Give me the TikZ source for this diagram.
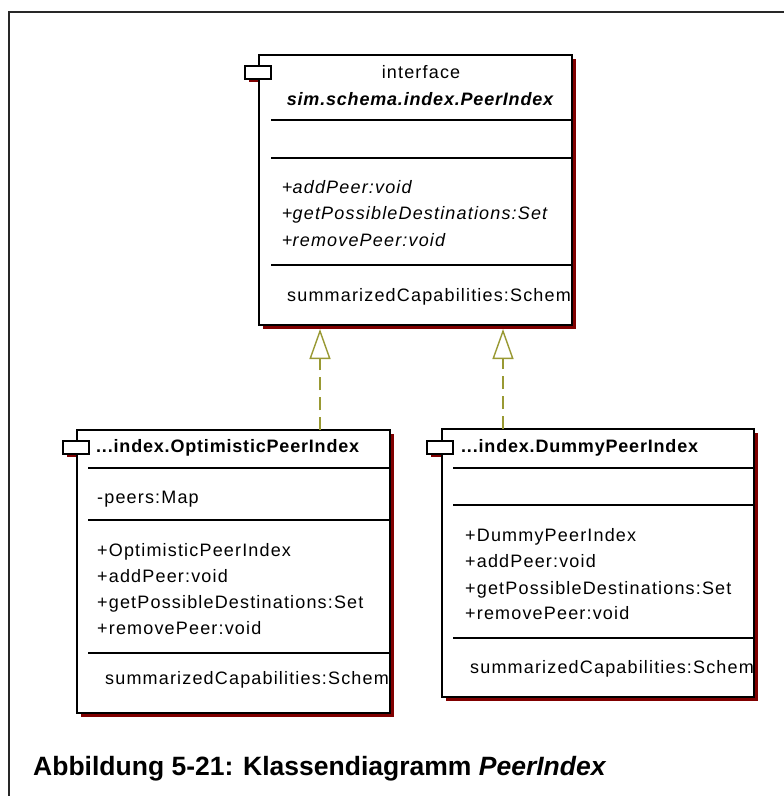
\documentclass[tikz,border=0pt]{standalone}
\usepackage{fontspec}
\setmainfont{Liberation Sans}
\newfontfamily\umlfont[LetterSpace=6.5]{Liberation Sans}
\newfontfamily\umlhead[LetterSpace=4.5]{Liberation Sans}
\usetikzlibrary{arrows.meta,shadows}
\definecolor{shadowred}{RGB}{128,0,0}
\definecolor{realizecol}{RGB}{153,153,51}
\definecolor{framegray}{RGB}{40,40,40}

\begin{document}
\begin{tikzpicture}[x=1pt,y=-1pt,
  classbox/.style={draw=black, fill=white, line width=1.3pt, inner sep=0pt,
    outer sep=0pt, anchor=north west,
    drop shadow={shadow xshift=4pt, shadow yshift=-4pt, fill=shadowred, opacity=1}},
  tabbox/.style={draw=black, fill=white, line width=1.3pt, inner sep=0pt,
    outer sep=0pt, anchor=north west, minimum width=26pt, minimum height=13pt},
  tabshadow/.style={fill=shadowred},
  divider/.style={draw=black, line width=1.3pt},
  member/.style={anchor=base west, inner sep=0pt, font=\umlfont\fontsize{18}{20}\selectfont},
  header/.style={anchor=base west, inner sep=0pt, font=\umlhead\fontsize{18}{20}\selectfont\bfseries},
  realize/.style={draw=realizecol, line width=1.4pt, dash pattern=on 13pt off 7pt,
    -{Triangle[open, length=30pt, width=21pt, line width=1.4pt, sep=0pt]}},
]
\useasboundingbox (0,0) rectangle (784,796);
\fill[white] (0,0) rectangle (784,796);
\clip (0,0) rectangle (784,796);

% outer figure frame (runs off the page to the right and bottom)
\draw[framegray, line width=2pt] (9,820) -- (9,12) -- (820,12);

% shadows of the class tabs (partly hidden by the boxes)
\fill[tabshadow] (249,69) rectangle (275,82);
\fill[tabshadow] (67,445) rectangle (92,457);
\fill[tabshadow] (431,445) rectangle (457,457);

% ---------------- interface PeerIndex ----------------
\node[classbox, minimum width=313pt, minimum height=270pt] (top) at (259,55) {};
\node[tabbox] (toptab) at (245,66) {};
\node[anchor=base, inner sep=0pt, font=\umlfont\fontsize{18}{20}\selectfont] (topst) at (421,78) {interface};
\node[anchor=base, inner sep=0pt, font=\umlhead\fontsize{18}{20}\selectfont\bfseries\itshape] (topname) at (420,105) {sim.schema.index.PeerIndex};
\draw[divider] (271,120) -- (572,120);
\draw[divider] (271,158) -- (572,158);
\draw[divider] (271,265) -- (572,265);
\node[member] (topm1) at (282,193) {+\itshape addPeer:void};
\node[member] (topm2) at (282,219) {+\itshape getPossibleDestinations:Set};
\node[member] (topm3) at (282,246) {+\itshape removePeer:void};
\begin{scope}
  \clip (top.north west) rectangle (top.south east);
  \node[member] (topp) at (287,301) {summarizedCapabilities:Schem};
\end{scope}

% ---------------- OptimisticPeerIndex ----------------
\node[classbox, minimum width=313pt, minimum height=283pt] (opt) at (77,430) {};
\node[tabbox] (opttab) at (63,441) {};
\node[header] (optname) at (96,452) {...index.OptimisticPeerIndex};
\draw[divider] (88,468) -- (390,468);
\draw[divider] (88,520) -- (390,520);
\draw[divider] (88,653) -- (390,653);
\node[member] (opta1) at (97,503) {-peers:Map};
\node[member] (optm1) at (97,556) {+OptimisticPeerIndex};
\node[member] (optm2) at (97,582) {+addPeer:void};
\node[member] (optm3) at (97,608) {+getPossibleDestinations:Set};
\node[member] (optm4) at (97,634) {+removePeer:void};
\begin{scope}
  \clip (opt.north west) rectangle (opt.south east);
  \node[member] (optp) at (105,684) {summarizedCapabilities:Schem};
\end{scope}

% ---------------- DummyPeerIndex ----------------
\node[classbox, minimum width=312pt, minimum height=268pt] (dum) at (442,429) {};
\node[tabbox] (dumtab) at (427,441) {};
\node[header] (dumname) at (461,452) {...index.DummyPeerIndex};
\draw[divider] (453,468) -- (754,468);
\draw[divider] (453,505) -- (754,505);
\draw[divider] (453,638) -- (754,638);
\node[member] (dumm1) at (465,541) {+DummyPeerIndex};
\node[member] (dumm2) at (465,567) {+addPeer:void};
\node[member] (dumm3) at (465,594) {+getPossibleDestinations:Set};
\node[member] (dumm4) at (465,619) {+removePeer:void};
\begin{scope}
  \clip (dum.north west) rectangle (dum.south east);
  \node[member] (dump) at (470,673) {summarizedCapabilities:Schem};
\end{scope}

% ---------------- realizations ----------------
\coordinate (rl) at (320,0);
\coordinate (rr) at (503,0);
\draw[realize] (rl |- opt.north) -- ([yshift=-4pt]rl |- top.south);
\draw[realize] (rr |- dum.north) -- ([yshift=-4pt]rr |- top.south);

% caption
\node[anchor=base west, inner sep=0pt, font=\fontsize{26.5}{30}\selectfont\bfseries] (caption) at (33,775)
  {Abbildung 5-21: Klassendiagramm \textit{PeerIndex}};
\end{tikzpicture}
\end{document}
